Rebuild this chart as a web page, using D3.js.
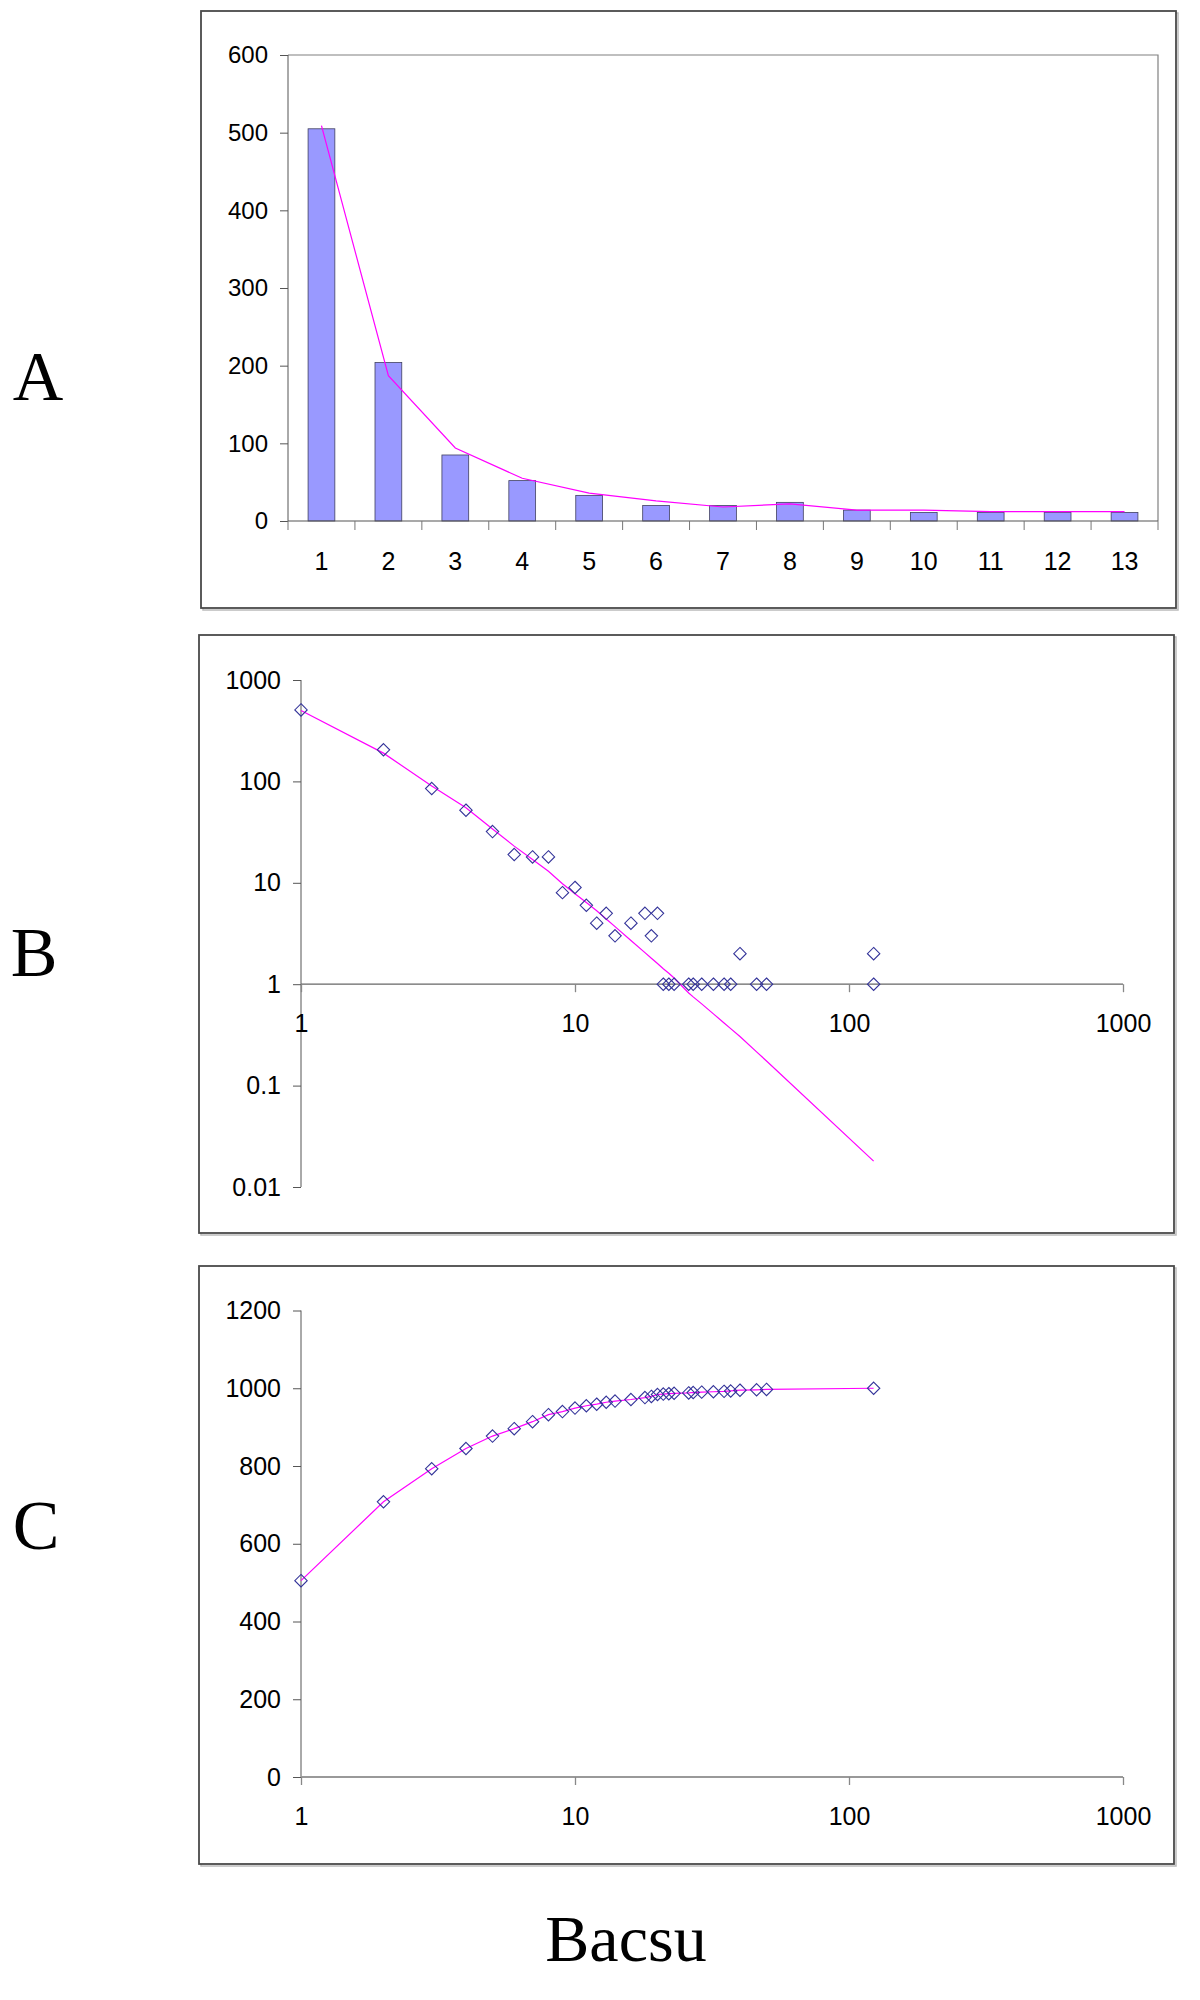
<!DOCTYPE html>
<html><head><meta charset="utf-8">
<script src="https://cdn.jsdelivr.net/npm/d3@7"></script>
<style>
html,body{margin:0;padding:0;background:#fff;}
svg text{font-family:"Liberation Sans",Arial,sans-serif;fill:#000;}
</style></head>
<body>
<svg id="chart" width="1200" height="2000"></svg>
<script>
// ---------- DATA ----------
// Panel A: histogram (categories 1..13)
const categoriesA = ["1","2","3","4","5","6","7","8","9","10","11","12","13"];
const barsA = [505, 204, 85, 52, 33, 20, 20, 24, 14, 11, 11, 11, 11];
const fitA  = [509, 187, 94, 55, 36, 26, 18, 22, 14, 14, 12, 12, 12];
const yTicksA = [0, 100, 200, 300, 400, 500, 600];

// Panel B: log-log frequency distribution
const pointsBx = [1,2,3,4,5,6,7,8,9,10,11,12,13,14,16,18,19,20,21,22,23,26,27,29,32,35,37,40,46,50,123,123];
const pointsBy = [507,205,85,52,32,19,18,18,8,9,6,4,5,3,4,5,3,5,1,1,1,1,1,1,1,1,1,2,1,1,2,1];
const fitBx = [1,2,3,4,5,6,7,8,9,10,11,12,13,14,16,18,19,20,21,22,23,26,27,29,32,35,37,40,46,50,123];
const fitBy = [500,190,90,55,34,23,17,13,9.8,7.8,6.4,5.3,4.4,3.7,2.7,2.05,1.8,1.6,1.42,1.28,1.15,0.82,0.75,0.64,0.51,0.415,0.365,0.305,0.215,0.175,0.018];
const yTicksB = [0.01, 0.1, 1, 10, 100, 1000];
const xTicksLog = [1, 10, 100, 1000];

// Panel C: cumulative distribution
const pointsCx = [1,2,3,4,5,6,7,8,9,10,11,12,13,14,16,18,19,20,21,22,23,26,27,29,32,35,37,40,46,50,123];
const pointsCy = [505,708,793,845,877,896,914,932,940,949,955,959,964,967,971,976,979,984,985,986,987,988,989,990,991,992,993,995,996,997,1000];
const yTicksC = [0, 200, 400, 600, 800, 1000, 1200];

const panelLabels = ["A", "B", "C"];
const bottomTitle = "Bacsu";

// ---------- STYLE ----------
const PINK = "#ff00ff";
const BAR = "#9999ff";
const MARK = "#333399";
const AXIS = "#555";
const FRAME = "#4a4a4a";

const svg = d3.select("#chart");

function frame(x, y, w, h) {
  svg.append("rect").attr("x", x + 2).attr("y", y + 2).attr("width", w).attr("height", h)
    .attr("fill", "none").attr("stroke", "#bbb").attr("stroke-width", 1.5);
  svg.append("rect").attr("x", x).attr("y", y).attr("width", w).attr("height", h)
    .attr("fill", "#fff").attr("stroke", FRAME).attr("stroke-width", 1.8);
}

function diamonds(g, xs, ys, xs_, ys_) {
  const r = 6.2;
  g.selectAll("path.dm").data(xs.map((x, i) => [x, ys[i]])).join("path")
    .attr("class", "dm")
    .attr("d", d => {
      const cx = xs_(d[0]), cy = ys_(d[1]);
      return `M${cx},${cy - r}L${cx + r},${cy}L${cx},${cy + r}L${cx - r},${cy}Z`;
    })
    .attr("fill", "none").attr("stroke", MARK).attr("stroke-width", 1.1);
}

// ---------- PANEL A ----------
(function () {
  frame(201, 11, 975, 597);
  const x0 = 288, x1 = 1158, yTop = 55, yBot = 521;
  const x = d3.scaleBand().domain(categoriesA).range([x0, x1]).paddingInner(0.6).paddingOuter(0.3);
  const y = d3.scaleLinear().domain([0, 600]).range([yBot, yTop]);
  const g = svg.append("g");
  g.append("path").attr("d", `M${x0},${yTop}H${x1}V${yBot}`).attr("fill", "none")
    .attr("stroke", "#808080").attr("stroke-width", 1.2);
  g.selectAll("rect.bar").data(barsA).join("rect").attr("class", "bar")
    .attr("x", (d, i) => x(categoriesA[i])).attr("width", x.bandwidth())
    .attr("y", d => y(d)).attr("height", d => y(0) - y(d))
    .attr("fill", BAR).attr("stroke", "#404060").attr("stroke-width", 0.8);
  const line = d3.line().x((d, i) => x(categoriesA[i]) + x.bandwidth() / 2).y(d => y(d));
  g.append("path").attr("d", line(fitA)).attr("fill", "none").attr("stroke", PINK).attr("stroke-width", 1.2);
  const ya = d3.axisLeft(y).tickValues(yTicksA).tickSize(8).tickPadding(12).tickFormat(d3.format("d"));
  const yg = g.append("g").attr("transform", `translate(${x0},0)`).call(ya);
  yg.select(".domain").attr("stroke", AXIS).attr("d", `M0,${yTop}V${yBot}`);
  yg.selectAll(".tick line").attr("stroke", AXIS);
  yg.selectAll("text").attr("font-size", 24).attr("fill", "#000");
  const xg = g.append("g").attr("transform", `translate(0,${yBot})`);
  xg.append("line").attr("x1", x0).attr("x2", x1).attr("stroke", AXIS).attr("stroke-width", 1.2);
  const step = x.step();
  const bounds = d3.range(categoriesA.length + 1).map(i => x0 + i * step);
  xg.selectAll("line.t").data(bounds).join("line").attr("class", "t")
    .attr("x1", d => d).attr("x2", d => d).attr("y1", 0).attr("y2", 9).attr("stroke", "#777");
  xg.selectAll("text").data(categoriesA).join("text")
    .attr("x", d => x(d) + x.bandwidth() / 2).attr("y", 49)
    .attr("text-anchor", "middle").attr("font-size", 25).text(d => d);
})();

// ---------- PANEL B ----------
(function () {
  frame(199, 635, 975, 598);
  const x = d3.scaleLog().domain([1, 1000]).range([301, 1123]);
  const y = d3.scaleLog().domain([0.01, 1000]).range([1187, 680]);
  const g = svg.append("g");
  const ya = d3.axisLeft(y).tickValues(yTicksB).tickSize(8).tickPadding(12)
    .tickFormat(d => d < 1 ? String(d) : d3.format("d")(d));
  const yg = g.append("g").attr("transform", `translate(${x(1)},0)`).call(ya);
  yg.select(".domain").attr("stroke", AXIS).attr("d", `M0,${y(1000)}V${y(0.01)}`);
  yg.selectAll(".tick line").attr("stroke", AXIS);
  yg.selectAll("text").attr("font-size", 25).attr("fill", "#000");
  const xa = d3.axisBottom(x).tickValues(xTicksLog).tickSize(8).tickPadding(22).tickFormat(d3.format("d"));
  const xg = g.append("g").attr("transform", `translate(0,${y(1)})`).call(xa);
  xg.select(".domain").attr("stroke", "#666").attr("stroke-width", 1.3).attr("d", `M${x(1)},0H${x(1000)}`);
  xg.selectAll(".tick line").attr("stroke", "#888").attr("stroke-width", 1.3);
  xg.selectAll("text").attr("font-size", 25).attr("fill", "#000");
  const line = d3.line().x((d, i) => x(fitBx[i])).y(d => y(d));
  g.append("path").attr("d", line(fitBy)).attr("fill", "none").attr("stroke", PINK).attr("stroke-width", 1.2);
  diamonds(g, pointsBx, pointsBy, x, y);
})();

// ---------- PANEL C ----------
(function () {
  frame(199, 1266, 975, 598);
  const x = d3.scaleLog().domain([1, 1000]).range([301, 1123]);
  const y = d3.scaleLinear().domain([0, 1200]).range([1777, 1310.5]);
  const g = svg.append("g");
  const ya = d3.axisLeft(y).tickValues(yTicksC).tickSize(8).tickPadding(12).tickFormat(d3.format("d"));
  const yg = g.append("g").attr("transform", `translate(${x(1)},0)`).call(ya);
  yg.select(".domain").attr("stroke", AXIS).attr("d", `M0,${y(1200)}V${y(0)}`);
  yg.selectAll(".tick line").attr("stroke", AXIS);
  yg.selectAll("text").attr("font-size", 25).attr("fill", "#000");
  const xa = d3.axisBottom(x).tickValues(xTicksLog).tickSize(8).tickPadding(22).tickFormat(d3.format("d"));
  const xg = g.append("g").attr("transform", `translate(0,${y(0)})`).call(xa);
  xg.select(".domain").attr("stroke", "#999").attr("stroke-width", 2).attr("d", `M${x(1)},0H${x(1000)}`);
  xg.selectAll(".tick line").attr("stroke", "#888").attr("stroke-width", 1.3);
  xg.selectAll("text").attr("font-size", 25).attr("fill", "#000");
  const line = d3.line().x((d, i) => x(pointsCx[i])).y(d => y(d));
  g.append("path").attr("d", line(pointsCy)).attr("fill", "none").attr("stroke", PINK).attr("stroke-width", 1.2);
  diamonds(g, pointsCx, pointsCy, x, y);
})();

// ---------- LABELS ----------
const labelPos = [[38, 400], [34, 976], [36, 1549]];
svg.selectAll("text.pl").data(panelLabels).join("text").attr("class", "pl")
  .attr("x", (d, i) => labelPos[i][0]).attr("y", (d, i) => labelPos[i][1])
  .attr("text-anchor", "middle")
  .style("font-family", "'Liberation Serif','Times New Roman',serif")
  .attr("font-size", 70).text(d => d);
svg.append("text").attr("x", 626).attr("y", 1961).attr("text-anchor", "middle")
  .style("font-family", "'Liberation Serif','Times New Roman',serif")
  .attr("font-size", 66).text(bottomTitle);
</script>
</body></html>
